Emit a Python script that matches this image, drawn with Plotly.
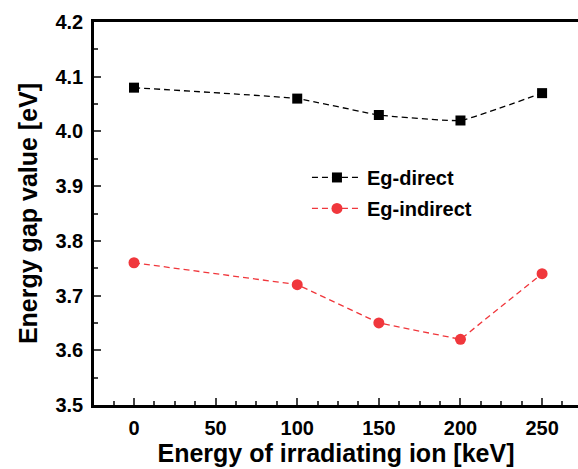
import plotly.graph_objects as go

energy = [0, 100, 150, 200, 250]
eg_direct = [4.08, 4.06, 4.03, 4.02, 4.07]
eg_indirect = [3.76, 3.72, 3.65, 3.62, 3.74]
x_ticks = [0, 50, 100, 150, 200, 250]
y_ticks = [3.5, 3.6, 3.7, 3.8, 3.9, 4.0, 4.1, 4.2]

fig = go.Figure()
fig.add_trace(go.Scatter(
    x=energy, y=eg_direct, name="<b>Eg-direct</b>", mode="lines+markers",
    legendgroup="a",
    line=dict(color="black", dash="6px,4px", width=1.3, shape="spline", smoothing=0.3),
    marker=dict(symbol="square", size=10, color="black"),
))
fig.add_trace(go.Scatter(
    x=energy, y=eg_indirect, name="<b>Eg-indirect</b>", mode="lines+markers",
    legendgroup="b",
    line=dict(color="#f0373c", dash="6px,4px", width=1.3),
    marker=dict(symbol="circle", size=11, color="#f0373c"),
))

fam = "Liberation Sans, Arial, sans-serif"
fig.update_layout(
    width=578, height=469,
    margin=dict(l=94, r=0, t=22, b=64),
    plot_bgcolor="white", paper_bgcolor="white",
    font=dict(family=fam, color="black"),
    showlegend=True,
    legend=dict(x=0.44, y=0.645, xanchor="left", yanchor="top",
                bgcolor="rgba(0,0,0,0)", font=dict(size=20, family=fam),
                itemwidth=50, tracegroupgap=2),
    xaxis=dict(
        range=[-24.5, 272], tickvals=x_ticks, ticktext=[f"<b>{v}</b>" for v in x_ticks],
        ticks="inside", ticklen=7, tickwidth=2, ticklabelstandoff=3,
        showline=True, linewidth=2.5, linecolor="black", mirror=True,
        showgrid=False, zeroline=False,
        tickfont=dict(size=20, family=fam),
        minor=dict(dtick=12.5, ticks="inside", ticklen=4, tickwidth=2, tick0=0),
        title=dict(text="<b>Energy of irradiating ion [keV]</b>", standoff=4,
                   font=dict(size=25, family=fam)),
    ),
    yaxis=dict(
        range=[3.5, 4.2], tickvals=y_ticks, ticktext=[f"<b>{v:.1f}</b>" for v in y_ticks],
        ticks="inside", ticklen=7, tickwidth=2, ticklabelstandoff=4,
        showline=True, linewidth=2.5, linecolor="black", mirror=False,
        showgrid=False, zeroline=False,
        tickfont=dict(size=20, family=fam),
        minor=dict(dtick=0.05, ticks="inside", ticklen=4, tickwidth=2),
        title=dict(text="<b>Energy gap value [eV]</b>", standoff=11,
                   font=dict(size=25, family=fam)),
    ),
)
fig.write_html("out.html")
